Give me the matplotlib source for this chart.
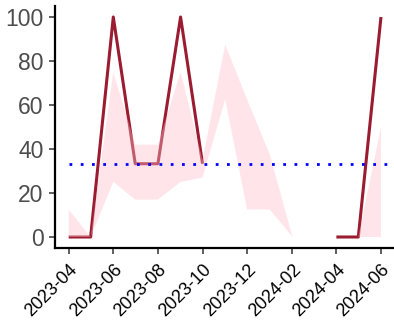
import numpy as np
import pandas as pd
import matplotlib
matplotlib.use("Agg")
import matplotlib.pyplot as plt
import matplotlib.dates as mdates

plt.rcParams['font.family'] = ['Liberation Sans', 'DejaVu Sans']

months = pd.date_range("2023-04-01", "2024-06-01", freq="MS")
rate = [0, 0, 100, 33.3, 33.3, 100, 33.3, np.nan, np.nan, np.nan, np.nan, np.nan, 0, 0, 100]
upper = [12.5, 0, 75, 42, 42, 75, 35, 87.5, 62.5, 37.5, 0, np.nan, 0, 0, 50]
lower = [0, 0, 25, 17, 17, 25, 27, 62.5, 12.5, 12.5, 0, np.nan, 0, 0, 0]
mean_rate = 33.3
tick_months = pd.date_range("2023-04-01", "2024-06-01", freq="2MS")

W, H = 394, 323
fig = plt.figure(figsize=(W / 100, H / 100), dpi=100)
ax = fig.add_axes([55 / W, 75 / H, 339 / W, 242 / H])

ax.plot(months, rate, color="#9B1B30", lw=2.2, solid_capstyle="butt", zorder=2)
ax.fill_between(months, lower, upper, color="pink", alpha=0.4, lw=0, zorder=3)
ax.plot([months[0], months[-1] + pd.Timedelta(days=30)], [mean_rate, mean_rate],
        color="blue", lw=2.0, linestyle=(0, (1, 3.05)), dash_capstyle="butt", zorder=4)

x0 = months[0] - pd.Timedelta(days=18.7)
x1 = months[-1] + pd.Timedelta(days=17.8)
ax.set_xlim(x0, x1)
ax.set_ylim(-5, 105)

ax.set_yticks([0, 20, 40, 60, 80, 100])
ax.set_xticks(tick_months)
ax.xaxis.set_major_formatter(mdates.DateFormatter("%Y-%m"))

for side in ("top", "right"):
    ax.spines[side].set_visible(False)
for side in ("left", "bottom"):
    ax.spines[side].set_linewidth(1.6)
    ax.spines[side].set_color("black")

ax.tick_params(axis="y", length=4.3, width=1.1, color="#333333", pad=4,
               labelsize=16.5, labelcolor="#4D4D4D")
ax.tick_params(axis="x", length=4.3, width=1.1, color="#333333", pad=5,
               labelsize=13, labelcolor="black")
for lab in ax.get_xticklabels():
    lab.set_rotation(45)
    lab.set_ha("right")
    lab.set_va("top")
    lab.set_rotation_mode("anchor")

fig.savefig("out.png", dpi=100)
